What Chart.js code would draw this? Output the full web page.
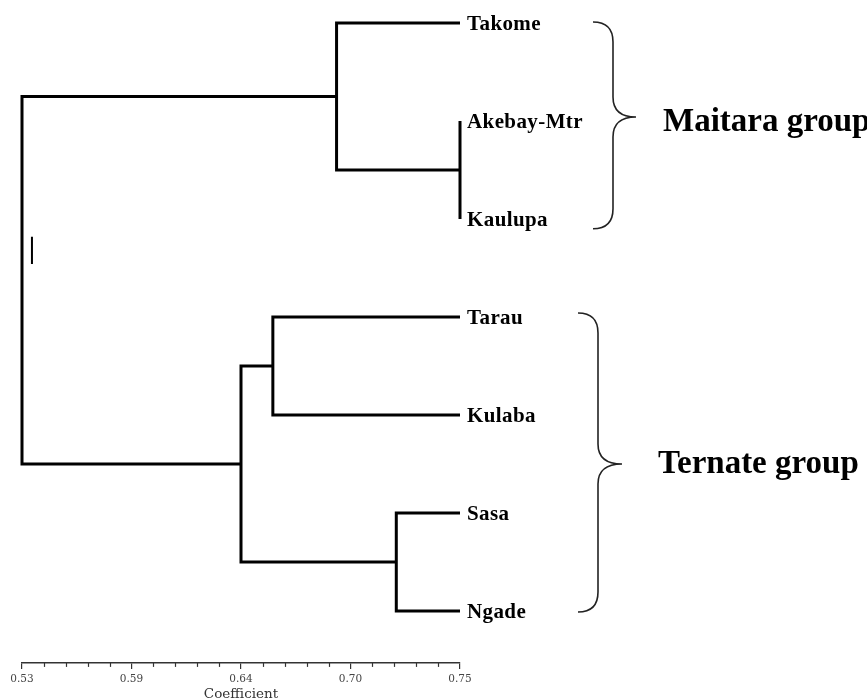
<!DOCTYPE html>
<html><head><meta charset="utf-8">
<script src="https://cdn.jsdelivr.net/npm/chart.js@4.4.1/dist/chart.umd.min.js"></script>
<style>html,body{margin:0;padding:0;background:#fff;}</style>
</head><body>
<canvas id="c" width="867" height="700"></canvas>
<script>
// ---- data ----
const leafNames = ['Takome','Akebay-Mtr','Kaulupa','Tarau','Kulaba','Sasa','Ngade'];
const leafCoef = 0.75;
// linkage: clusters 0..6 are leaves, 7.. are merges in this order
const mergeA = [1, 0, 3, 5, 9, 8];
const mergeB = [2, 7, 4, 6, 10, 11];
const mergeCoef = [0.750, 0.688, 0.656, 0.718, 0.640, 0.530];
const tickValues = [0.53, 0.585, 0.64, 0.695, 0.75];
const tickLabels = ['0.53', '0.59', '0.64', '0.70', '0.75'];
const groupNames = ['Maitara group', 'Ternate group'];
const groupFirst = [0, 3];
const groupLast = [2, 6];
const axisTitle = 'Coefficient';
const markCoef = 0.535;
const markRange = [2.18, 2.46];

// ---- build tree geometry in data units ----
const nodeX = leafNames.map(() => leafCoef);
const nodeY = leafNames.map((_, i) => i);
mergeA.forEach((a, k) => {
  const b = mergeB[k];
  nodeX.push(mergeCoef[k]);
  nodeY.push((nodeY[a] + nodeY[b]) / 2);
});
const datasets = mergeA.map((a, k) => {
  const b = mergeB[k], m = leafNames.length + k;
  return {
    data: [
      {x: nodeX[a], y: nodeY[a]}, {x: nodeX[m], y: nodeY[a]},
      {x: nodeX[m], y: nodeY[b]}, {x: nodeX[b], y: nodeY[b]}
    ],
    showLine: true, borderColor: '#000', borderWidth: 3, pointRadius: 0,
    borderJoinStyle: 'miter', borderCapStyle: 'butt', tension: 0, clip: false
  };
});
datasets.push({
  data: [{x: markCoef, y: markRange[0]}, {x: markCoef, y: markRange[1]}],
  showLine: true, borderColor: '#000', borderWidth: 2, pointRadius: 0, clip: false
});

// ---- style (pixel offsets) ----
const braceStyle = [
  {endDx: 133, spineDx: 153, tipDx: 176, textDx: 203, textDy: 14, top: -0.01, bottom: 0.1, tip: -0.04},
  {endDx: 118, spineDx: 138, tipDx: 162, textDx: 198, textDy: 9, top: -0.04, bottom: 0.01, tip: 0}
];

function drawBrace(ctx, xe, xs, xt, yTop, yBot, yTip) {
  const r = 20;
  ctx.beginPath();
  ctx.moveTo(xe, yTop);
  ctx.quadraticCurveTo(xs, yTop, xs, yTop + r);
  ctx.lineTo(xs, yTip - r);
  ctx.quadraticCurveTo(xs, yTip, xt, yTip);
  ctx.quadraticCurveTo(xs, yTip, xs, yTip + r);
  ctx.lineTo(xs, yBot - r);
  ctx.quadraticCurveTo(xs, yBot, xe, yBot);
  ctx.stroke();
}

const decor = {
  id: 'decor',
  afterDraw(chart) {
    const ctx = chart.ctx, xs = chart.scales.x, ys = chart.scales.y;
    ctx.save();
    // minor ticks
    const bottom = chart.chartArea.bottom;
    ctx.strokeStyle = '#333'; ctx.lineWidth = 1.2;
    for (let i = 0; i < tickValues.length - 1; i++) {
      for (let j = 1; j < 5; j++) {
        const v = tickValues[i] + (tickValues[i + 1] - tickValues[i]) * j / 5;
        const px = Math.round(xs.getPixelForValue(v)) + 0.5;
        ctx.beginPath(); ctx.moveTo(px, bottom); ctx.lineTo(px, bottom + 4); ctx.stroke();
      }
    }
    // leaf labels
    ctx.fillStyle = '#000';
    ctx.font = 'bold 21px "Liberation Serif"';
    try { ctx.letterSpacing = '0.4px'; } catch (e) {}
    ctx.textBaseline = 'alphabetic';
    ctx.textAlign = 'left';
    const lx = xs.getPixelForValue(leafCoef) + 7;
    leafNames.forEach((n, i) => ctx.fillText(n, lx, ys.getPixelForValue(i) + 7));
    try { ctx.letterSpacing = '0px'; } catch (e) {}
    // braces + group names
    const right = xs.getPixelForValue(leafCoef);
    ctx.strokeStyle = '#222'; ctx.lineWidth = 1.6;
    groupNames.forEach((g, k) => {
      const st = braceStyle[k];
      const yT = ys.getPixelForValue(groupFirst[k] + st.top);
      const yB = ys.getPixelForValue(groupLast[k] + st.bottom);
      const yTip = ys.getPixelForValue((groupFirst[k] + groupLast[k]) / 2 + st.tip);
      drawBrace(ctx, right + st.endDx, right + st.spineDx, right + st.tipDx, yT, yB, yTip);
      ctx.font = 'bold 33px "Liberation Serif"';
      ctx.fillText(g, right + st.textDx, yTip + st.textDy);
    });
    ctx.restore();
  }
};

new Chart(document.getElementById('c'), {
  type: 'scatter',
  data: {datasets},
  options: {
    responsive: false, animation: false,
    layout: {padding: {left: 22, right: 407, top: 23, bottom: -1}},
    plugins: {legend: {display: false}, tooltip: {enabled: false}},
    scales: {
      y: {type: 'linear', reverse: true, min: 0, max: 6.53, display: false},
      x: {
        type: 'linear', min: 0.53, max: 0.75,
        afterBuildTicks: s => { s.ticks = tickValues.map(v => ({value: v})); },
        ticks: {
          callback: (v, i) => tickLabels[i], autoSkip: false, maxRotation: 0,
          color: '#444', font: {family: 'DejaVu Serif', size: 10.5}, padding: 4
        },
        grid: {drawOnChartArea: false, drawTicks: true, tickLength: 6, color: '#333', lineWidth: 1.2},
        border: {display: true, color: '#333', width: 1.5},
        title: {display: true, text: axisTitle, color: '#333',
          font: {family: 'DejaVu Serif', size: 13.5, lineHeight: 1}, padding: {top: -2, bottom: 0}}
      }
    }
  },
  plugins: [decor]
});
</script>
</body></html>
